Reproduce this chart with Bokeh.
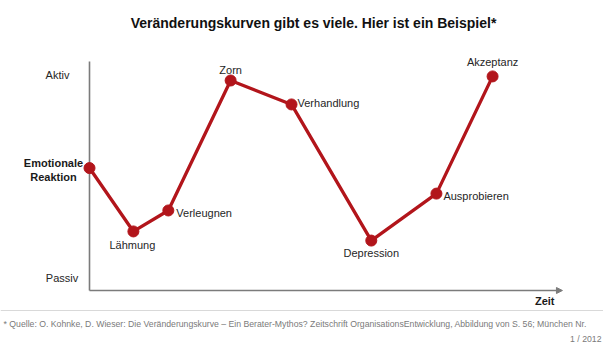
from bokeh.plotting import figure
from bokeh.models import Range1d, Label, Arrow, NormalHead, Span, ColumnDataSource
from bokeh.core.properties import value
from bokeh.embed import file_html
from bokeh.resources import INLINE

# ---- data -------------------------------------------------------------
stages = ["Emotionale Reaktion", "Lähmung", "Verleugnen", "Zorn", "Verhandlung",
          "Depression", "Ausprobieren", "Akzeptanz"]
time_pos = [0.0, 9.3, 16.7, 29.9, 42.8, 59.7, 73.5, 85.4]
emotion = [53.7, 25.9, 35.1, 92.1, 81.6, 21.9, 42.5, 93.9]
axis_labels = ["Aktiv", "Passiv"]
axis_levels = [94.3, 5.3]

# ---- layout helpers (pixel geometry of the slide) -----------------------
W, H = 603, 355
ox, oy = 89, 290          # origin of the axes in figure pixels
sx, sy = 4.72, 2.28       # pixels per data unit

FONT = "Liberation Sans"
RED = "#b2151b"
AXIS = "#7b7b7b"

p = figure(width=W, height=H, output_backend="svg", toolbar_location=None,
           x_axis_location=None, y_axis_location=None, min_border=0,
           x_range=Range1d(-ox / sx, (W - ox) / sx),
           y_range=Range1d(-(H - oy) / sy, oy / sy))
p.outline_line_color = None
p.xgrid.visible = False
p.ygrid.visible = False
p.background_fill_color = "white"
p.border_fill_color = "white"

# axes
p.segment(x0=[0], y0=[0], x1=[0], y1=[100.4], line_color=AXIS, line_width=1.6)
p.add_layout(Arrow(x_start=0, y_start=0, x_end=100.2, y_end=0, line_color=AXIS,
                   line_width=1.6,
                   end=NormalHead(size=6, line_color=AXIS, fill_color=AXIS, line_width=1)))

# curve
src = ColumnDataSource(dict(x=time_pos, y=emotion, name=stages))
p.line("x", "y", source=src, line_color=RED, line_width=3.3)
p.scatter("x", "y", source=src, size=11, fill_color=RED, line_color=RED)

# stage labels (skip the first one, which is shown at the axis)
dx = [0, -1, 8, 0, 6, 0, 7, 0]
dy = [0, 14, 3, -11, -1, 12, 2, -14]
al = ["left", "center", "left", "center", "left", "center", "left", "center"]
lab = ColumnDataSource(dict(x=time_pos[1:], y=emotion[1:], t=stages[1:],
                            dx=dx[1:], dy=dy[1:], al=al[1:]))
p.text("x", "y", text="t", source=lab, x_offset="dx", y_offset="dy",
       text_align="al", text_baseline="middle", text_font=value(FONT),
       text_font_size="11px", text_color="#262626")

# y-axis labels
p.text(x=[-(ox - 57) / sx, -(ox - 61.5) / sx], y=axis_levels, text=axis_labels,
       text_align="center", text_baseline="middle", text_font=value(FONT),
       text_font_size="11px", text_color="#262626")
p.add_layout(Label(x=-(ox - 53) / sx, y=emotion[0] - 0.8, text="Emotionale\nReaktion",
                   text_align="center", text_baseline="middle", text_font=FONT,
                   text_font_size="11px", text_font_style="bold", text_color="#1a1a1a",
                   text_line_height=1.15))
p.add_layout(Label(x=(554 - ox) / sx, y=-(300 - oy) / sy, text="Zeit", text_align="right",
                   text_baseline="middle", text_font=FONT, text_font_size="11px",
                   text_font_style="bold", text_color="#1a1a1a"))

# title
p.add_layout(Label(x=313, y=H - 22, x_units="screen", y_units="screen",
                   text="Veränderungskurven gibt es viele. Hier ist ein Beispiel*",
                   text_align="center", text_baseline="middle", text_font=FONT,
                   text_font_size="14px", text_font_style="bold", text_color="#111111"))

# footnote
p.add_layout(Span(location=-(310 - oy) / sy, dimension="width",
                  line_color="#d9d9d9", line_width=1))
p.add_layout(Label(x=3, y=H - 323, x_units="screen", y_units="screen",
                   text="* Quelle: O. Kohnke, D. Wieser: Die Veränderungskurve – Ein Berater-Mythos? "
                        "Zeitschrift OrganisationsEntwicklung, Abbildung von S. 56; München Nr.",
                   text_align="left", text_baseline="middle", text_font=FONT,
                   text_font_size="8.7px", text_color="#7a7a7a"))
p.add_layout(Label(x=W - 2, y=H - 338, x_units="screen", y_units="screen",
                   text="1 / 2012", text_align="right", text_baseline="middle",
                   text_font=FONT, text_font_size="8.7px", text_color="#7a7a7a"))

open("out.html", "w").write(file_html(p, INLINE))
